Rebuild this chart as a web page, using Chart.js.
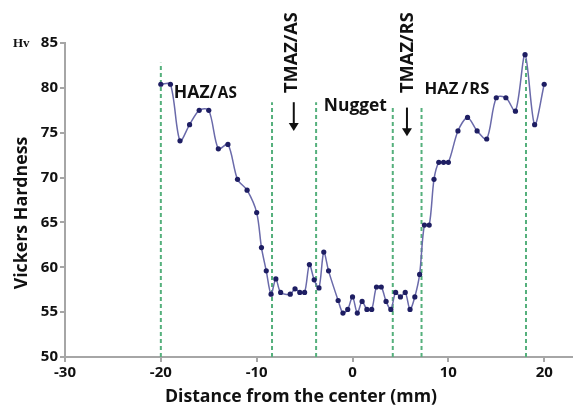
<!DOCTYPE html>
<html>
<head>
<meta charset="utf-8">
<script src="https://cdn.jsdelivr.net/npm/chart.js@4.4.1/dist/chart.umd.min.js"></script>
<style>
  html, body { margin: 0; padding: 0; background: #fff; }
  #wrap { width: 576px; height: 412px; }
</style>
</head>
<body>
<div id="wrap"><canvas id="hvChart" width="576" height="412"></canvas></div>
<script>
const distance = [-20, -19, -18, -17, -16, -15, -14, -13, -12, -11, -10, -9.5, -9, -8.5, -8, -7.5,
  -6.5, -6, -5.5, -5, -4.5, -4, -3.5, -3, -2.5, -1.5, -1, -0.5, 0, 0.5, 1, 1.5, 2, 2.5, 3, 3.5,
  4, 4.5, 5, 5.5, 6, 6.5, 7, 7.5, 8, 8.5, 9, 9.5, 10, 11, 12, 13, 14, 15, 16, 17, 18, 19, 20];
const hardness = [80.4, 80.4, 74.1, 75.9, 77.5, 77.5, 73.2, 73.7, 69.8, 68.6, 66.1, 62.2, 59.6, 57.0, 58.7, 57.2,
  57.0, 57.6, 57.2, 57.2, 60.3, 58.6, 57.7, 61.7, 59.6, 56.3, 54.9, 55.3, 56.7, 54.9, 56.2, 55.3, 55.3, 57.8, 57.8, 56.2,
  55.3, 57.2, 56.7, 57.2, 55.3, 56.7, 59.2, 64.7, 64.7, 69.8, 71.7, 71.7, 71.7, 75.2, 76.7, 75.2, 74.3, 78.9, 78.9, 77.4, 83.7, 75.9, 80.4];

// Límites de zona (líneas verdes punteadas)
const zoneX = [-20, -8.4, -3.8, 4.2, 7.2, 18.1];
const zoneTop = [82.8, 78.4, 78.4, 77.8, 77.8, 83.4];

const xTicks = [-30, -20, -10, 0, 10, 20];
const yTicks = [50, 55, 60, 65, 70, 75, 80, 85];

const FONT = '"Open Sans", Lato, sans-serif';

const zoneSets = zoneX.map((x, i) => ({
  data: [{ x: x, y: 50 }, { x: x, y: zoneTop[i] }],
  borderColor: '#55b07c',
  borderWidth: 2,
  borderDash: [4, 3],
  pointRadius: 0,
  tension: 0,
}));

// ajusta el tamaño de letra para que el texto ocupe el ancho dado
function fitFont(c, text, width) {
  c.font = 'bold 20px ' + FONT;
  const s = 20 * width / c.measureText(text).width;
  c.font = 'bold ' + s.toFixed(1) + 'px ' + FONT;
}

// Textos y flechas sobre el gráfico
const labelsPlugin = {
  id: 'labels',
  afterDraw(chart) {
    const c = chart.ctx;
    const xs = chart.scales.x;
    const ys = chart.scales.y;
    const px = (v) => xs.getPixelForValue(v);
    const py = (v) => ys.getPixelForValue(v);
    c.save();
    c.fillStyle = '#111';
    c.textBaseline = 'alphabetic';
    c.textAlign = 'left';

    // HAZ/AS
    let x0 = px(-18.65), y0 = py(78.9);
    fitFont(c, 'HAZ/', 43);
    c.fillText('HAZ/', x0, y0);
    let w = c.measureText('HAZ/').width;
    fitFont(c, 'AS', 19);
    c.fillText('AS', x0 + w + 1, y0);

    // HAZ/RS
    x0 = px(7.5); y0 = py(79.3);
    fitFont(c, 'HAZ', 34);
    c.fillText('HAZ', x0, y0);
    w = c.measureText('HAZ').width;
    c.fillText('/', x0 + w + 3, y0);
    w += 3 + c.measureText('/').width;
    fitFont(c, 'RS', 20);
    c.fillText('RS', x0 + w + 1, y0);

    // Nugget
    fitFont(c, 'Nugget', 63);
    c.fillText('Nugget', px(-2.99), py(77.4));

    // TMAZ verticales
    [[-6.37, 'TMAZ/AS'], [5.64, 'TMAZ/RS']].forEach(([v, t]) => {
      fitFont(c, t, 81);
      c.save();
      c.translate(px(v) + 6, 93);
      c.rotate(-Math.PI / 2);
      c.fillText(t, 0, 0);
      c.restore();
    });

    // Flechas
    c.strokeStyle = '#111';
    c.lineWidth = 2;
    [[-6.13, 78.4, 75.2], [5.68, 77.8, 74.6]].forEach(([v, a, b]) => {
      const x = px(v), ya = py(a), yb = py(b);
      c.beginPath();
      c.moveTo(x, ya);
      c.lineTo(x, yb - 7);
      c.stroke();
      c.beginPath();
      c.moveTo(x - 5, yb - 8);
      c.lineTo(x + 5, yb - 8);
      c.lineTo(x, yb);
      c.closePath();
      c.fill();
    });

    // Títulos de ejes
    c.textAlign = 'center';
    c.textBaseline = 'middle';
    fitFont(c, 'Distance from the center (mm)', 272);
    c.fillText('Distance from the center (mm)', 301, 397);
    fitFont(c, 'Vickers Hardness', 153);
    c.save();
    c.translate(22, 213);
    c.rotate(-Math.PI / 2);
    c.fillText('Vickers Hardness', 0, 0);
    c.restore();

    c.font = 'bold 13px "Liberation Serif", serif';
    c.textAlign = 'left';
    c.fillText('Hv', 13, 44);
    c.restore();
  },
};

const ctx = document.getElementById('hvChart').getContext('2d');
new Chart(ctx, {
  type: 'line',
  data: {
    datasets: [
      {
        data: distance.map((d, i) => ({ x: d, y: hardness[i] })),
        borderColor: '#6a6aaa',
        borderWidth: 1.5,
        pointRadius: 2.6,
        pointBackgroundColor: '#1e1e63',
        pointBorderWidth: 0,
        tension: 0.3,
      },
      ...zoneSets,
    ],
  },
  options: {
    responsive: false,
    animation: false,
    layout: { padding: { top: 43, right: 1, left: 0, bottom: 0 } },
    plugins: { legend: { display: false }, tooltip: { enabled: false } },
    scales: {
      x: {
        type: 'linear',
        min: -30,
        max: 22.9,
        afterBuildTicks: (s) => { s.ticks = xTicks.map((v) => ({ value: v })); },
        afterFit: (s) => { s.height = 55; },
        ticks: { font: { family: FONT, size: 15, weight: 'bold' }, color: '#111', padding: 2, maxRotation: 0 },
        grid: { drawOnChartArea: false, drawTicks: true, tickLength: 5, color: '#a6a6a6', lineWidth: 2 },
        border: { color: '#a6a6a6', width: 2 },
      },
      y: {
        min: 50,
        max: 85,
        afterBuildTicks: (s) => { s.ticks = yTicks.map((v) => ({ value: v })); },
        afterFit: (s) => { s.width = 65; },
        ticks: { font: { family: FONT, size: 15, weight: 'bold' }, color: '#111', padding: 2 },
        grid: { drawOnChartArea: false, drawTicks: true, tickLength: 5, color: '#a6a6a6', lineWidth: 2 },
        border: { color: '#a6a6a6', width: 2 },
      },
    },
  },
  plugins: [labelsPlugin],
});
</script>
</body>
</html>
